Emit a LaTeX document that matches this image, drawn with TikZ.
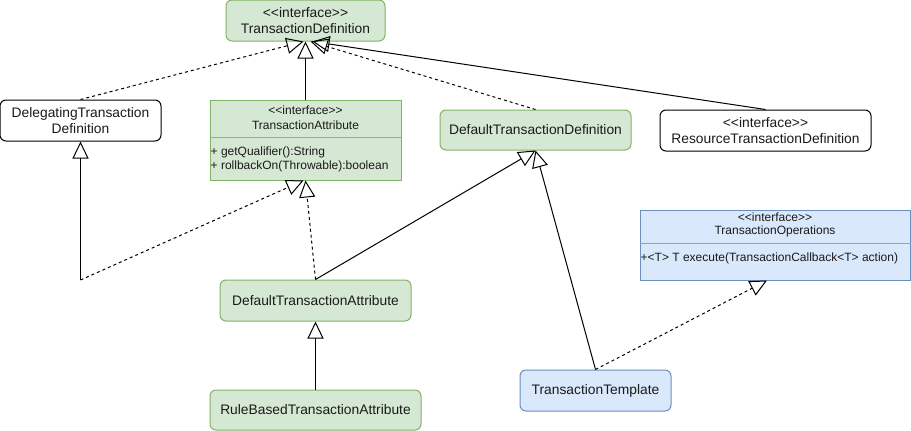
\documentclass[tikz,border=0pt]{standalone}
\usepackage{fontspec}
\setmainfont{Liberation Sans}
\usetikzlibrary{arrows.meta}
\definecolor{gfill}{HTML}{D5E8D4}
\definecolor{gline}{HTML}{82B366}
\definecolor{bfill}{HTML}{DAE8FC}
\definecolor{bline}{HTML}{6C8EBF}
\definecolor{txt}{HTML}{1A1A1A}
\definecolor{divcol}{HTML}{A0A0A0}
\begin{document}
\begin{tikzpicture}[x=1pt,y=-1pt,
  box/.style={draw, rounded corners=6pt, line width=1pt, inner sep=0pt, align=center, text=txt, font=\fontsize{13.8}{15.5}\selectfont},
  classbox/.style={draw, line width=1pt, inner sep=0pt},
  gr/.style={fill=gfill, draw=gline},
  bl/.style={fill=bfill, draw=bline},
  wh/.style={fill=white, draw=black},
  small/.style={inner sep=0pt, text=txt, font=\fontsize{12}{14}\selectfont},
  divider/.style={draw=divcol, line width=1pt},
  conn/.style={line width=1pt, -{Triangle[open, length=17pt, width=16pt]}},
  real/.style={conn},
  impl/.style={conn, dash pattern=on 3pt off 3pt},
]
\useasboundingbox (0,0) rectangle (911,431);

% nodes
\node[box,gr,minimum width=159pt,minimum height=41pt] (td) at (305.5,20.5) {<{}<interface>{}>\\TransactionDefinition};
\node[box,wh,minimum width=161pt,minimum height=41pt] (dtd) at (80.5,120.5) {DelegatingTransaction\\Definition};
\node[box,gr,minimum width=191pt,minimum height=40pt] (defd) at (535.5,130) {DefaultTransactionDefinition};
\node[box,wh,minimum width=211pt,minimum height=41pt] (rtd) at (765.5,130.5) {<{}<interface>{}>\\ResourceTransactionDefinition};
\node[box,gr,minimum width=191pt,minimum height=41pt] (dta) at (315.5,300.5) {DefaultTransactionAttribute};
\node[box,gr,minimum width=211pt,minimum height=40pt] (rbta) at (315.5,410) {RuleBasedTransactionAttribute};
\node[box,bl,minimum width=151pt,minimum height=41pt] (tt) at (595.5,390.5) {TransactionTemplate};

% TransactionAttribute class
\node[classbox,gr,minimum width=191pt,minimum height=80pt] (ta) at (305.5,140) {};
\draw[divider] ([yshift=-38pt]ta.north west) -- ([yshift=-38pt]ta.north east);
\node[small] (tast) at (305.5,110) {<{}<interface>{}>};
\node[small] (taname) at (305.5,125) {TransactionAttribute};
\node[small,anchor=west] (tam1) at (210.5,152) {+ getQualifier():String};
\node[small,anchor=west] (tam2) at (210.5,166) {+ rollbackOn(Throwable):boolean};

% TransactionOperations class
\node[classbox,bl,minimum width=270pt,minimum height=70pt] (tops) at (775,245) {};
\draw[divider] ([yshift=-34pt]tops.north west) -- ([yshift=-34pt]tops.north east);
\node[small] (topst) at (775,217) {<{}<interface>{}>};
\node[small] (topsname) at (775,231) {TransactionOperations};
\node[small,anchor=west] (topsm) at (640.5,258) {+<T> T execute(TransactionCallback<T> action)};

% connectors
\draw[impl] (dtd.north) -- ([xshift=-2pt]td.south);
\draw[real] (ta.north) -- (td.south);
\draw[impl] (defd.north) -- ([xshift=5pt]td.south);
\draw[real] (rtd.north) -- ([xshift=7pt]td.south);
\coordinate (dj) at (80.5,280);
\draw[real] (dj) -- (dtd.south);
\draw[impl] (dj) -- ([xshift=-2pt]ta.south);
\draw[impl] (dta.north) -- (ta.south);
\draw[real] (dta.north) -- (defd.south);
\draw[real] (rbta.north) -- (dta.south);
\draw[real] (tt.north) -- (defd.south);
\draw[impl] (tt.north) -- ([xshift=-8pt]tops.south);
\end{tikzpicture}
\end{document}
